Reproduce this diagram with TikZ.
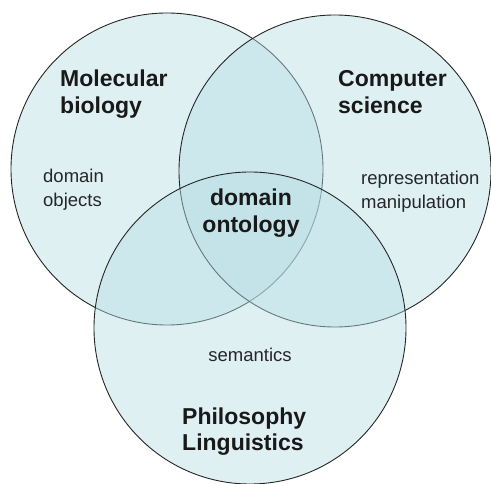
\documentclass[tikz,border=0pt]{standalone}
\usepackage{fontspec}
\setmainfont{Liberation Sans}
\definecolor{venn}{RGB}{184,222,228}
\tikzset{
  setcircle/.style={circle, inner sep=0pt, minimum size=312pt,
    fill=venn, fill opacity=0.45, draw=black!85, line width=0.9pt},
  head/.style={font=\fontsize{23}{27}\selectfont\bfseries, text=black!90,
    align=left, inner sep=0pt},
  note/.style={font=\fontsize{18.5}{24}\selectfont, text=black!85,
    align=left, inner sep=0pt}
}
\begin{document}
\begin{tikzpicture}[x=1pt,y=-1pt]
  \useasboundingbox (0,0) rectangle (491,484);
  % the three overlapping fields
  \node[setcircle] (bio)  at (167,169) {};
  \node[setcircle] (comp) at (335,171) {};
  \node[setcircle] (phil) at (250,328) {};
  % field titles (base anchor sits on the last line)
  \node[head, anchor=base west] (mb) at (60,114) {Molecular\\biology};
  \node[head, anchor=base west] (cs) at (338,114) {Computer\\science};
  \node[head, anchor=base west] (pl) at (182,451) {Philosophy\\Linguistics};
  \node[head, align=center, anchor=base] (onto) at (251,233) {domain\\ontology};
  % contributions of each field
  \node[note, anchor=base west] (obj) at (43,207) {domain\\objects};
  \node[note, anchor=base west] (rep) at (361,209) {representation\\manipulation};
  \node[note, anchor=base] (sem) at (250,362) {semantics};
\end{tikzpicture}
\end{document}
